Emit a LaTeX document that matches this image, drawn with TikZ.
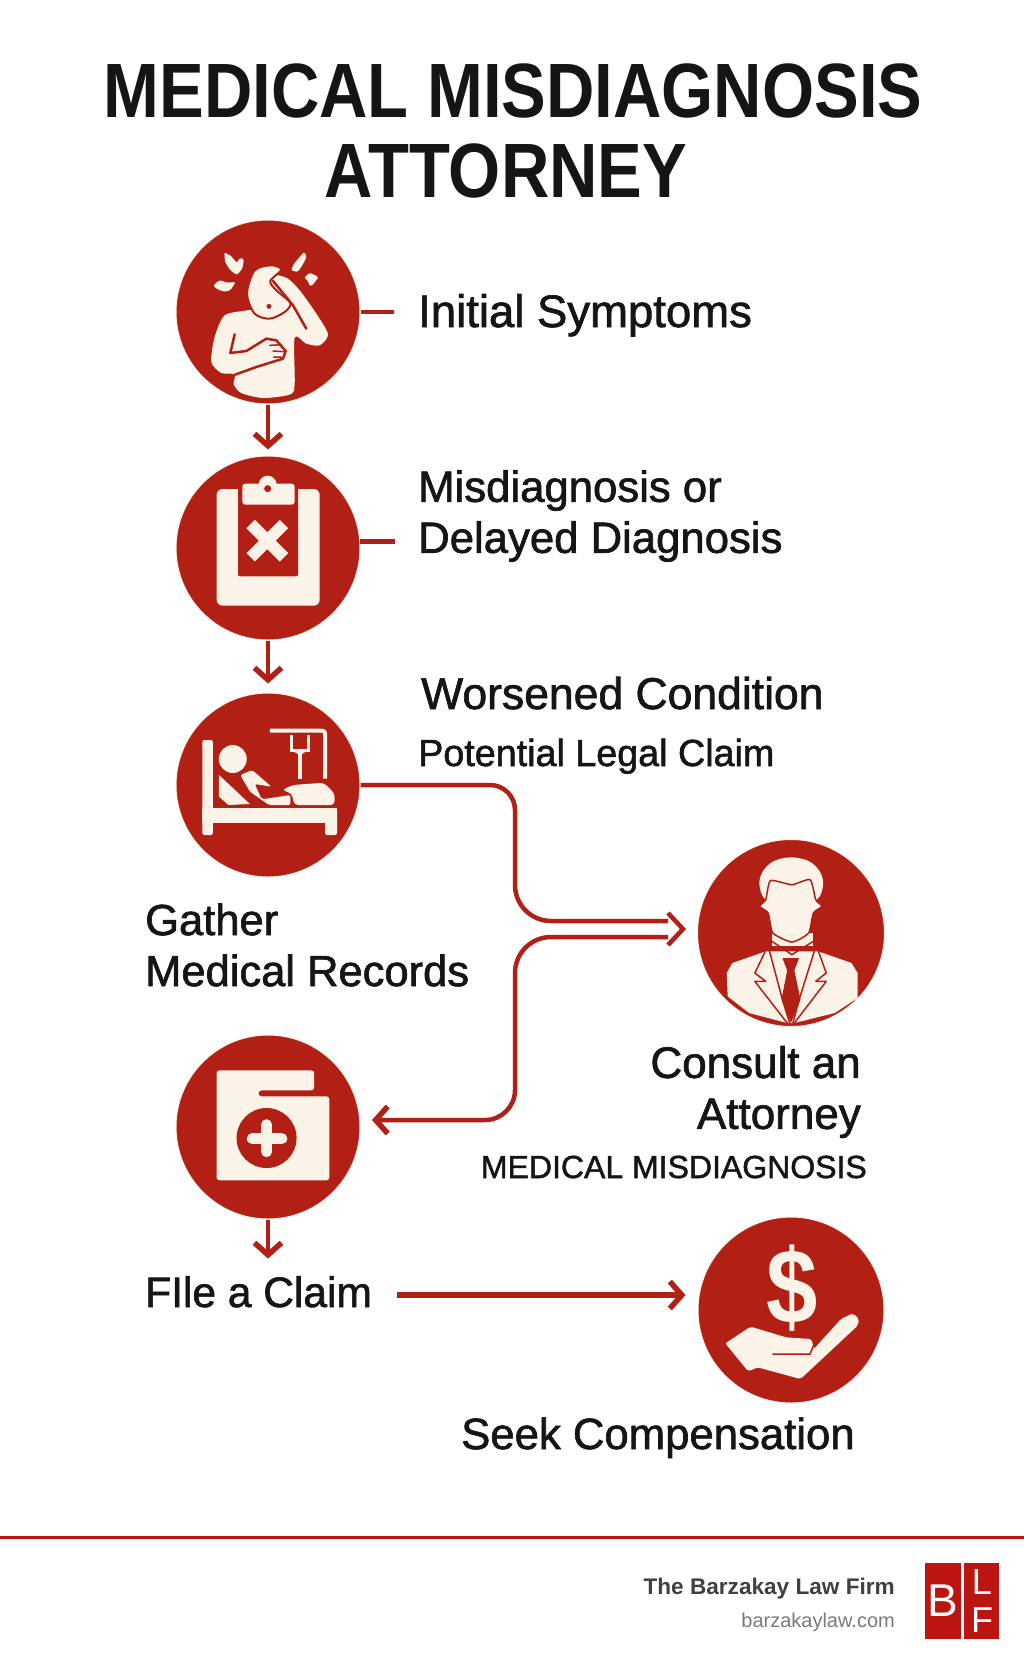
\documentclass[tikz,border=0pt]{standalone}
\usepackage{fontspec}
\usepackage{tikz}
\usetikzlibrary{arrows.meta}
\usetikzlibrary{positioning}
\setmainfont{Liberation Sans}
\newfontfamily\titlefont[FakeStretch=0.87]{Liberation Sans}
\newfontfamily\labelfont[FakeBold=1.5]{Liberation Sans}
\definecolor{medred}{HTML}{B21F14}
\definecolor{logored}{HTML}{BC1410}
\definecolor{cream}{HTML}{FBF3E8}
\definecolor{ink}{HTML}{151515}
\tikzset{
  stepnode/.style={circle, fill=medred, draw=cream, line width=1pt, minimum size=184pt, inner sep=0pt},
  steplabel/.style={font=\labelfont\fontsize{#1}{51}\selectfont, text=ink, inner sep=0pt, align=left},
  smalllabel/.style={font=\labelfont\fontsize{#1}{#1}\selectfont, text=ink, inner sep=0pt},
  titleline/.style={font=\titlefont\bfseries\fontsize{77}{77}\selectfont, text=ink, inner sep=0pt, anchor=base},
  flow/.style={draw=medred, line width=4.5pt, -{Straight Barb[length=12pt,width=27pt,line width=5.5pt]}},
  plainflow/.style={draw=medred, line width=4.5pt},
  icon/.style n args={4}{x=1pt/#4, y=-1pt/3, shift={(#1.center)}, shift={(-#2,-#3)}},
  redline/.style={draw=medred, line width=#1, line cap=round, line join=round}
}
\begin{document}
\begin{tikzpicture}[on grid, x=1pt, y=-1pt, node distance=236pt]
  \useasboundingbox (0,0) rectangle (1024,1666);
  \fill[white] (0,0) rectangle (1024,1666);

  \node[titleline] (title_1) at (513,117) {MEDICAL MISDIAGNOSIS};
  \node[titleline] (title_2) at (506,197) {ATTORNEY};

  \node[stepnode]            (s_1) at (268,312)   {};
  \node[stepnode]            (s_2) [below=of s_1] {};
  \node[stepnode]            (s_3) [below=237pt of s_2] {};
  \node[stepnode]            (s_5) [below=342pt of s_3] {};
  \node[stepnode, minimum size=187pt] (s_4) at (791,933)   {};
  \node[stepnode, minimum size=186pt] (s_6) [below=377pt of s_4] {};

  \node[steplabel=45.5, anchor=base west] (l_1) at (418,327)  {Initial Symptoms};
  \node[steplabel=43.7, anchor=west]      (l_2) at (418,516)  {Misdiagnosis or\\Delayed Diagnosis};
  \node[steplabel=44.5, anchor=base west] (l_3) at (421,709)  {Worsened Condition};
  \node[smalllabel=37.7, anchor=base west] (l_3b) at (418,766) {Potential Legal Claim};
  \node[steplabel=43.5, anchor=west]      (l_4) at (145,945)  {Gather\\Medical Records};
  \node[steplabel=44, anchor=east, align=right] (l_5) at (861,1092) {Consult an\\Attorney};
  \node[smalllabel=32, anchor=base east] (l_5b) at (867,1178) {MEDICAL MISDIAGNOSIS};
  \node[steplabel=42.5, anchor=base west] (l_6) at (145,1307) {FIle a Claim};
  \node[steplabel=43.7, anchor=base west] (l_7) at (461,1449) {Seek Compensation};

  \coordinate (c_in)  at (668,921);
  \coordinate (c_out) at (668,937);
  \coordinate (c_tip) at (683,929);
  \coordinate (f_tip) at (372,1120);
  \coordinate (d_1)   at (394,312);
  \coordinate (d_2)   at (395,542);

  \draw[plainflow] (s_1.east) -- (d_1);
  \draw[plainflow] (s_2.4) -- (s_2.4 -| d_2);
  \path[flow]
    (s_1) edge ([yshift=6pt]s_2.north)
    (s_2) edge ([yshift=9pt]s_3.north)
    (s_5) edge ([yshift=-39pt]s_5.south);
  \draw[plainflow, rounded corners=25pt] (s_3.east) -| (515,860) [rounded corners=36pt] |- (c_in);
  \draw[flow, rounded corners=36pt] (c_out) -| (515,1040) [rounded corners=30pt] |- (f_tip);
  \draw[plainflow] (668,913) -- (c_tip) -- (668,945);
  \draw[flow, line width=6pt, shorten <=25pt, shorten >=12pt] (l_6.east |- 0,1295) -- (s_6.west |- 0,1295);

  % symptoms
  \begin{scope}[icon={s_1}{325}{305}{3}]
    \fill[cream] plot[smooth cycle, tension=.45] coordinates {(262,300) (195,315) (165,380) (155,455) (185,488) (225,492) (222,522) (245,548) (310,563) (392,552) (405,520) (405,382) (440,400) (480,405) (505,372) (470,310) (420,240) (385,205) (350,195) (330,215) (300,290)};
    \fill[cream, draw=medred, line width=2pt] plot[smooth cycle, tension=.5] coordinates {(335,165) (285,180) (262,250) (285,310) (330,325) (375,305) (392,278) (350,240) (332,212) (365,178)};
    \fill[cream, rounded corners=1.5pt] (194,126) -- (213,136) -- (232,158) -- (240,143) -- (253,146) -- (248,175) -- (232,194) -- (212,180) -- (196,155) -- cycle;
    \fill[cream, rounded corners=1.5pt] (160,226) -- (180,209) -- (202,217) -- (228,215) -- (212,240) -- (195,244) -- (175,238) -- cycle;
    \fill[cream, rounded corners=1.5pt] (434,124) -- (441,140) -- (428,165) -- (414,185) -- (394,180) -- (403,160) -- cycle;
    \fill[cream, rounded corners=1.5pt] (433,203) -- (450,187) -- (477,200) -- (458,225) -- (449,227) -- (445,210) -- cycle;
    \fill[medred] (328,288) circle[radius=2.5pt];
    \draw[redline=2.5pt] (340,212) -- (400,285) -- (440,355);
    \draw[redline=2.5pt] (225,372) -- (212,428) -- (260,422) -- (320,385) -- (350,390) -- (378,422) -- (370,445) -- (290,470) -- (226,493);
    \draw[redline=1.5pt] (330,405) -- (365,403) (340,422) -- (372,424) (342,440) -- (365,440);
  \end{scope}

  % clipboard
  \begin{scope}[icon={s_2}{322}{1015}{3}]
    \fill[cream, rounded corners=6pt] (168,838) rectangle (477,1188);
    \fill[medred, rounded corners=2pt] (232,820) rectangle (412,1100);
    \fill[cream] (321,825) circle[radius=9pt];
    \fill[cream, rounded corners=3pt] (245,822) rectangle (402,885);
    \fill[medred] (321,837) circle[radius=3.5pt];
    \draw[cream, line width=12pt] (270,943) -- (370,1043) (370,943) -- (270,1043);
  \end{scope}

  % hospital bed
  \begin{scope}[icon={s_3}{228}{315}{2.1}]
    \fill[cream, rounded corners=2pt] (90,180) rectangle (112,465);
    \fill[cream] (90,385) rectangle (373,430);
    \fill[cream, rounded corners=2pt] (348,385) rectangle (373,465);
    \fill[cream] (154,237) circle[radius=14pt];
    \draw[cream, line width=4pt, rounded corners=3pt] (232,152) -- (348,152) -- (348,296);
    \draw[cream, line width=3pt] (277,165) -- (277,212) -- (313,212) -- (313,165);
    \fill[cream] (277,210) -- (313,210) -- (295,226) -- cycle;
    \draw[cream, line width=4pt] (295,220) -- (295,296);
    \fill[cream] (125,285) -- (190,372) -- (145,375) -- (125,350) -- cycle;
    \fill[cream, rounded corners=2pt] (170,285) -- (195,270) -- (235,320) -- (200,312) -- (215,358) -- (275,345) -- (275,375) -- (230,375) -- (190,335) -- cycle;
    \fill[cream, rounded corners=4pt] (257,330) -- (280,315) -- (345,308) -- (368,340) -- (368,375) -- (283,375) -- (278,340) -- cycle;
  \end{scope}

  % attorney
  \begin{scope}[icon={s_4}{1338}{760}{2.1}]
    \fill[cream] plot[smooth cycle, tension=.6] coordinates {(1272,600) (1295,550) (1338,533) (1382,550) (1405,600) (1392,660) (1338,670) (1285,660)};
    \fill[cream] (1205,950) -- (1203,880) -- (1215,850) -- (1285,815) -- (1395,815) -- (1465,850) -- (1478,880) -- (1478,955) -- (1430,1000) -- (1345,1030) -- (1330,1030) -- (1250,1000) -- cycle;
    \fill[cream] (1298,760) rectangle (1385,800);
    \fill[cream, draw=medred, line width=1.5pt] plot[smooth cycle, tension=.35] coordinates {(1295,603) (1340,615) (1378,600) (1390,660) (1403,680) (1385,700) (1375,760) (1340,787) (1300,760) (1290,700) (1272,680) (1285,660)};
    \draw[redline=1.5pt] (1298,785) -- (1340,825) -- (1385,785);
    \draw[redline=1.5pt] (1292,810) -- (1320,960) -- (1335,1030) (1388,810) -- (1355,960) -- (1342,1030);
    \draw[redline=1.5pt] (1285,812) -- (1262,880) -- (1285,905) -- (1262,905) -- (1330,1030);
    \draw[redline=1.5pt] (1395,812) -- (1412,880) -- (1390,905) -- (1412,905) -- (1345,1030);
    \fill[medred] (1320,835) -- (1355,835) -- (1345,872) -- (1358,960) -- (1338,1030) -- (1318,960) -- (1330,872) -- cycle;
  \end{scope}

  % medical folder
  \begin{scope}[icon={s_5}{228}{322}{2.1}]
    \fill[cream, rounded corners=3pt] (120,152) -- (325,152) -- (325,212) -- (208,212) -- (208,230) -- (357,230) -- (357,482) -- (120,482) -- cycle;
    \fill[medred] (225,355) circle[radius=30pt];
    \draw[cream, line width=11pt, line cap=round] (195,357) -- (257,357) (225,315) -- (225,396);
  \end{scope}

  % compensation
  \begin{scope}[icon={s_6}{1335}{868}{2.1}]
    \node[font=\titlefont\bfseries\fontsize{106}{106}\selectfont, text=cream, inner sep=0pt] (dollar) at (1338,802) {\$};
    \fill[cream, rounded corners=2pt] (1197,968) -- (1250,918) -- (1325,950) -- (1378,955) -- (1383,985) -- (1440,895) -- (1465,878) -- (1478,895) -- (1475,915) -- (1355,1075) -- (1265,1040) -- (1245,1052) -- cycle;
    \draw[redline=1.5pt] (1297,1000) -- (1375,1000) -- (1385,965);
  \end{scope}

  % footer
  \draw[logored, line width=3pt] (0,1537) -- (1024,1537);
  \node[font=\bfseries\fontsize{22.6}{22.6}\selectfont, text=black!75, inner sep=0pt, anchor=base east] (firm) at (895,1594) {The Barzakay Law Firm};
  \node[font=\fontsize{20}{20}\selectfont, text=black!52, inner sep=0pt, anchor=base east] (site) at (895,1627) {barzakaylaw.com};
  \fill[logored] (925,1563) rectangle (961,1639);
  \fill[logored] (964,1563) rectangle (999,1639);
  \node[font=\fontsize{46}{46}\selectfont, text=white, inner sep=0pt] (logo_b) at (943,1601) {B};
  \node[font=\fontsize{36}{36}\selectfont, text=white, inner sep=0pt] (logo_l) at (982,1582) {L};
  \node[font=\fontsize{36}{36}\selectfont, text=white, inner sep=0pt] (logo_f) at (982,1620) {F};
\end{tikzpicture}
\end{document}
